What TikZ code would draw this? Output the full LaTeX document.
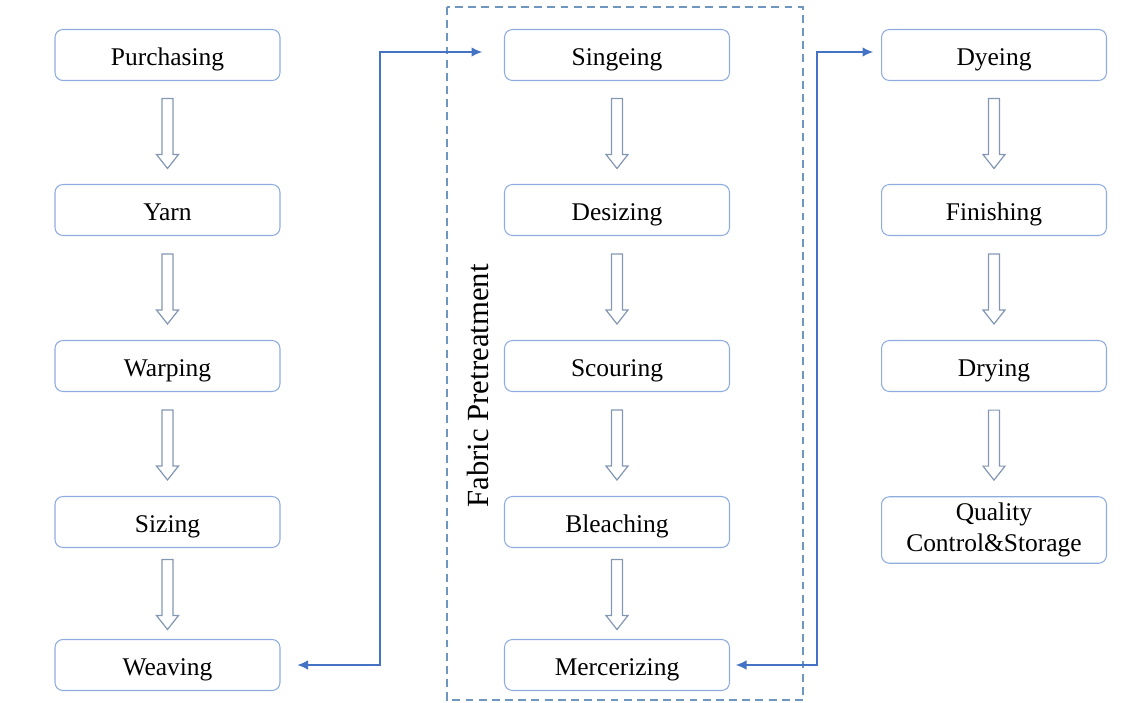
\documentclass[tikz,border=0pt]{standalone}
\usepackage{fontspec}
\setmainfont{Liberation Serif}
\usetikzlibrary{calc,arrows.meta}

\definecolor{boxline}{RGB}{143,172,222}
\definecolor{linkblue}{RGB}{68,114,196}
\definecolor{arrowgray}{RGB}{132,152,180}
\definecolor{fenceblue}{RGB}{110,150,190}

\tikzset{
    stepbox/.style={draw=boxline, line width=0.6pt, rounded corners=4.5pt,
        minimum width=4.5cm, minimum height=1.02cm, align=center,
        text height=11.5pt, text depth=0pt,
        font=\fontsize{14.5}{18}\selectfont},
    flowarrow/.style={draw=arrowgray, line width=0.7pt, line join=miter},
    link/.style={draw=linkblue, line width=0.6pt,
        {Latex[length=2.1mm,width=1.9mm]}-{Latex[length=2.1mm,width=1.9mm]}},
    fence/.style={draw=fenceblue, line width=0.7pt, dash pattern=on 4.5pt off 3pt}
}

\begin{document}
\begin{tikzpicture}[x=0.02cm, y=-0.02cm]
    \useasboundingbox (0,0) rectangle (1140,703);

    \node[stepbox] (purchasing) at (167.5,55) {Purchasing};
    \node[stepbox] (yarn) at (167.5,210) {Yarn};
    \node[stepbox] (warping) at (167.5,366) {Warping};
    \node[stepbox] (sizing) at (167.5,522) {Sizing};
    \node[stepbox] (weaving) at (167.5,665) {Weaving};

    \node[stepbox] (singeing) at (617,55) {Singeing};
    \node[stepbox] (desizing) at (617,210) {Desizing};
    \node[stepbox] (scouring) at (617,366) {Scouring};
    \node[stepbox] (bleaching) at (617,522) {Bleaching};
    \node[stepbox] (mercerizing) at (617,665) {Mercerizing};

    \node[stepbox] (dyeing) at (994,55) {Dyeing};
    \node[stepbox] (finishing) at (994,210) {Finishing};
    \node[stepbox] (drying) at (994,366) {Drying};
    \node[stepbox, minimum height=1.32cm, text height=, text depth=] (quality) at (994,530) {Quality\\Control\&Storage};

    \draw[fence] (447,7) rectangle (803,700);
    \node[rotate=90, font=\fontsize{17.5}{20}\selectfont] (pretreat) at (478,386) {Fabric Pretreatment};

    \foreach \a/\b in {purchasing/yarn, yarn/warping, warping/sizing, sizing/weaving,
        singeing/desizing, desizing/scouring, scouring/bleaching, bleaching/mercerizing,
        dyeing/finishing, finishing/drying, drying/quality}
        \draw[flowarrow] ($(\a.south)!0.5!(\b.north)+(-5.5,-34)$) -- ++(0,56) -- ++(-5.5,0)
            -- ++(11,14) -- ++(11,-14) -- ++(-5.5,0) -- ++(0,-56) -- cycle;

    \coordinate (bendL) at (380,0);
    \coordinate (bendR) at (817,0);
    \draw[link, shorten <=0.34cm, shorten >=0.44cm] (weaving.east) -- (weaving.east -| bendL)
        |- ($(singeing.west)+(0,-3)$);
    \draw[link, shorten <=0.12cm, shorten >=0.16cm] (mercerizing.east) -- (mercerizing.east -| bendR)
        |- ($(dyeing.west)+(0,-3)$);
\end{tikzpicture}
\end{document}
